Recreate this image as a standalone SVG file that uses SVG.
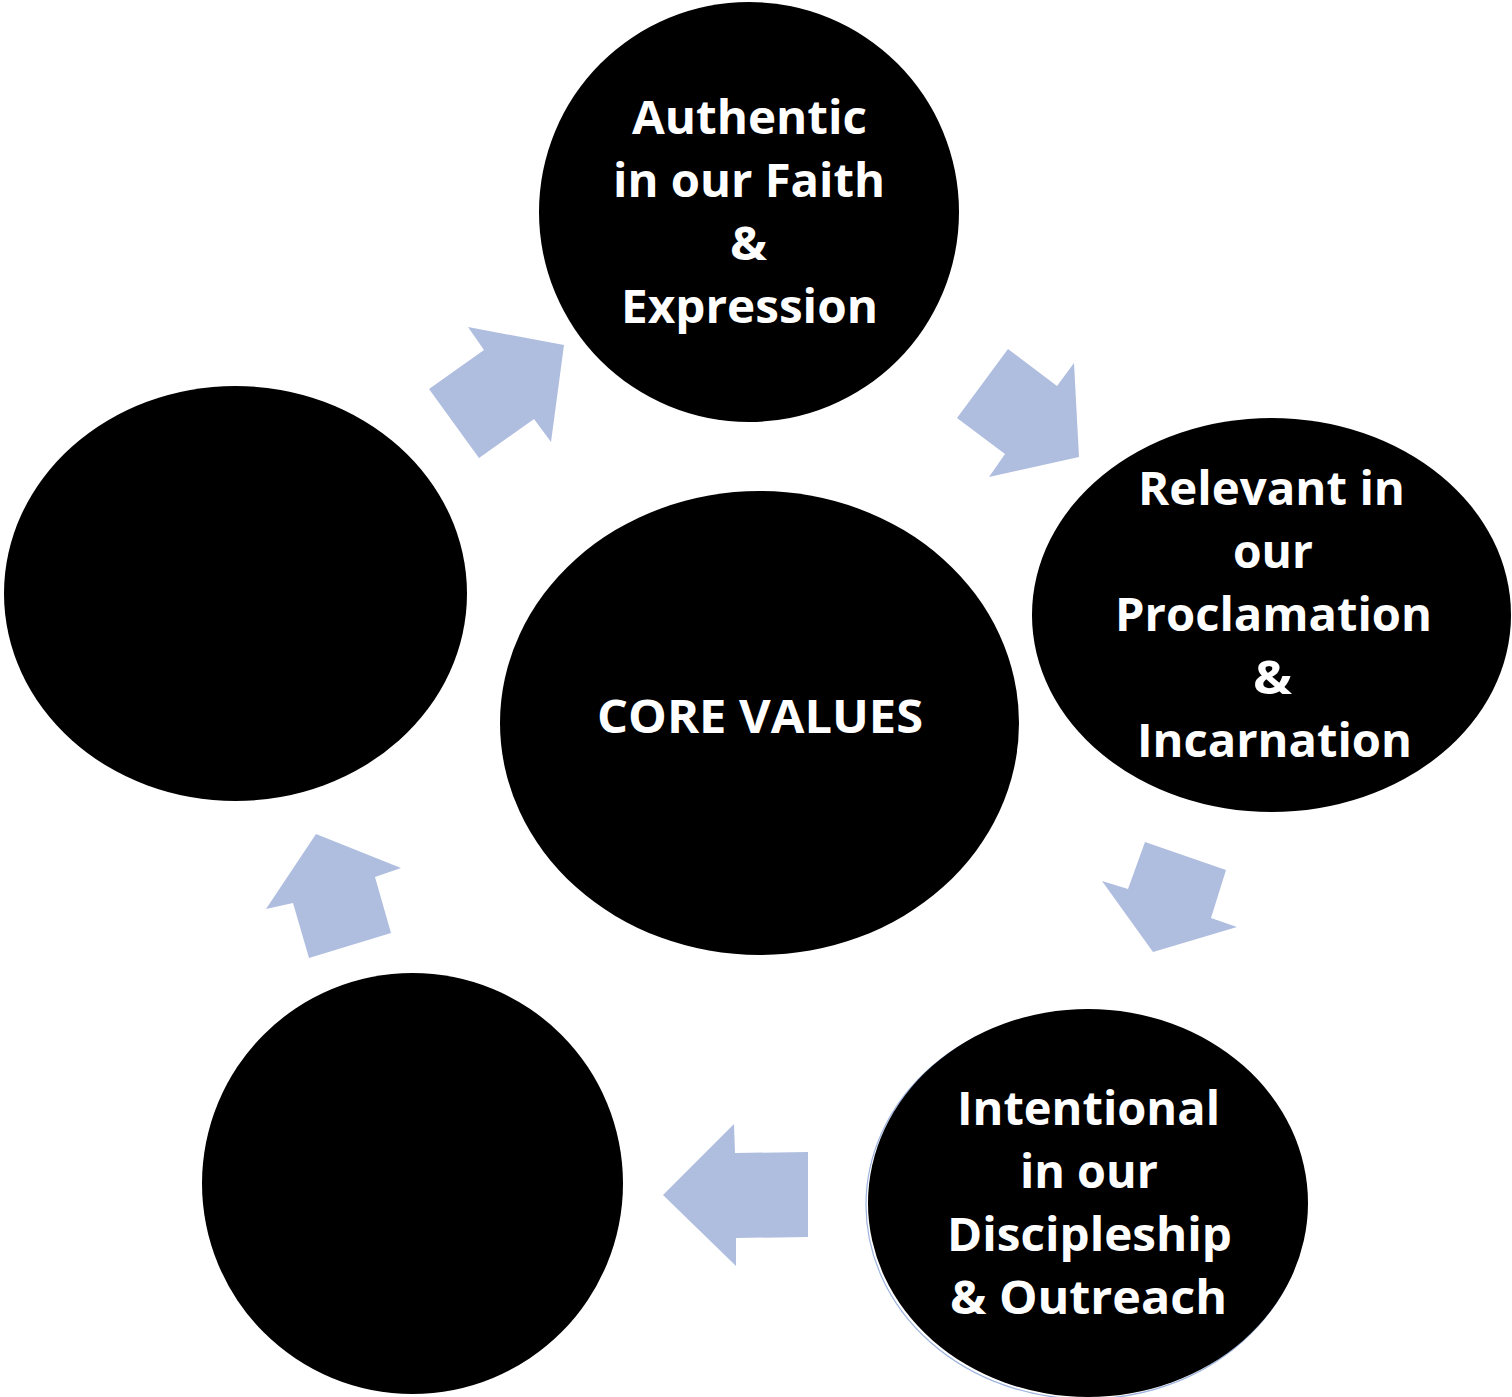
<svg xmlns="http://www.w3.org/2000/svg" width="1512" height="1397" viewBox="0 0 1512 1397">
<style>
.node{fill:#000}
.arrow{fill:#AFBDDF}
.t{fill:#fff;font-family:"Open Sans","Liberation Sans",sans-serif;font-weight:bold;font-size:46px}
</style>
<rect width="1512" height="1397" fill="#fff"/>
<g id="connectors">
<polygon class="arrow" points="468,327 564,345 551,442 534,419 479,458 429,389 484,350"/>
<polygon class="arrow" points="1008,349 1057,386 1074,363 1079,457 989,477 1005,454 957,418"/>
<polygon class="arrow" points="1145,842 1226,870 1211,918 1237,927 1153,952 1102,881 1128,889"/>
<polygon class="arrow" points="734,1124 735,1153 808,1152 808,1237 736,1238 736,1266 663,1195"/>
<polygon class="arrow" points="316,834 401,868 375,877 391,933 309,958 293,903 266,909"/>
</g>
<g id="node-top">
<ellipse class="node" cx="749" cy="212" rx="210" ry="210"/>
<text class="t" x="632" y="134" textLength="235" lengthAdjust="spacingAndGlyphs">Authentic</text>
<text class="t" x="613" y="197" textLength="272" lengthAdjust="spacingAndGlyphs">in our Faith</text>
<text class="t" x="730" y="260" textLength="37" lengthAdjust="spacingAndGlyphs">&amp;</text>
<text class="t" x="621" y="323" textLength="257" lengthAdjust="spacingAndGlyphs">Expression</text>
</g>
<g id="node-right">
<ellipse class="node" cx="1271.5" cy="615" rx="239.5" ry="197"/>
<text class="t" x="1138" y="505" textLength="267" lengthAdjust="spacingAndGlyphs">Relevant in</text>
<text class="t" x="1233" y="568" textLength="80" lengthAdjust="spacingAndGlyphs">our</text>
<text class="t" x="1115" y="631" textLength="317" lengthAdjust="spacingAndGlyphs">Proclamation</text>
<text class="t" x="1253" y="694" textLength="39" lengthAdjust="spacingAndGlyphs">&amp;</text>
<text class="t" x="1137" y="757" textLength="275" lengthAdjust="spacingAndGlyphs">Incarnation</text>
</g>
<g id="node-center">
<ellipse class="node" cx="759.5" cy="723" rx="259.5" ry="232"/>
<text class="t" x="597" y="733" textLength="326" lengthAdjust="spacingAndGlyphs">CORE VALUES</text>
</g>
<g id="node-left">
<ellipse class="node" cx="235.5" cy="593.5" rx="231.5" ry="207.5"/>
</g>
<g id="node-bottom-left">
<ellipse class="node" cx="412.5" cy="1183.5" rx="210.5" ry="210.5"/>
</g>
<g id="node-bottom-right">
<ellipse cx="1086" cy="1205" rx="220" ry="194" fill="none" stroke="#9DB3DE" stroke-width="1.2"/>
<ellipse class="node" cx="1088" cy="1203" rx="220" ry="194"/>
<text class="t" x="957" y="1125" textLength="263" lengthAdjust="spacingAndGlyphs">Intentional</text>
<text class="t" x="1020" y="1188" textLength="138" lengthAdjust="spacingAndGlyphs">in our</text>
<text class="t" x="947" y="1251" textLength="285" lengthAdjust="spacingAndGlyphs">Discipleship</text>
<text class="t" x="950" y="1314" textLength="277" lengthAdjust="spacingAndGlyphs">&amp; Outreach</text>
</g>
</svg>
